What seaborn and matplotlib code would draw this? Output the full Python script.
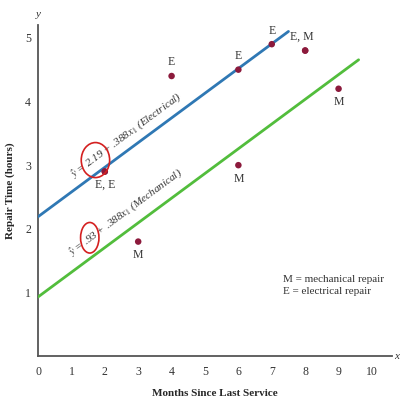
import matplotlib
matplotlib.use("Agg")
import matplotlib.pyplot as plt
import seaborn as sns
import pandas as pd
import numpy as np
from matplotlib.patches import Ellipse

months = [2, 6, 8, 3, 2, 7, 9, 8, 4, 6]
hours = [2.9, 3.0, 4.8, 1.8, 2.9, 4.9, 4.2, 4.8, 4.4, 4.5]
repair_type = ["E", "M", "E", "M", "E", "E", "M", "M", "E", "E"]

point_labels = ["E, E", "M", "E, M", "M", "E", "M", "E", "E"]
label_x = [2, 6, 8, 3, 7, 9, 4, 6]
label_y = [2.9, 3.0, 4.8, 1.8, 4.9, 4.2, 4.4, 4.5]

intercepts = {"Electrical": 2.19, "Mechanical": 0.93}
slope = 0.388
line_end = {"Electrical": 7.5, "Mechanical": 9.6}
line_colors = {"Electrical": "#2f78b4", "Mechanical": "#52bd3c"}

x_ticks = [0, 1, 2, 3, 4, 5, 6, 7, 8, 9, 10]
y_ticks = [1, 2, 3, 4, 5]

sns.set_style("white")
plt.rcParams["font.family"] = ["Liberation Serif", "DejaVu Serif"]
plt.rcParams["mathtext.fontset"] = "stix"

fig = plt.figure(figsize=(4.0, 3.98), dpi=100)
ax = fig.add_axes([0.095, 0.105, 0.885, 0.832])

df = pd.DataFrame({"months": months, "hours": hours, "type": repair_type})
sns.scatterplot(data=df, x="months", y="hours", color="#8c1a3c", s=22,
                edgecolor="none", ax=ax, zorder=5, legend=False)

rows = []
for k, b in intercepts.items():
    for xv in (0, line_end[k]):
        rows.append({"x": xv, "y": b + slope * xv, "fit": k})
ldf = pd.DataFrame(rows)
sns.lineplot(data=ldf, x="x", y="y", hue="fit", palette=line_colors,
             linewidth=2.0, ax=ax, legend=False, zorder=3)

for lab, xv, yv in zip(point_labels, label_x, label_y):
    if lab.startswith("M") or lab == "E, E":
        ax.text(xv, yv - 0.12, lab, ha="center", va="top", fontsize=8.5, color="#333333")
    elif lab == "E, M":
        ax.text(xv - 0.1, yv + 0.12, lab, ha="center", va="bottom", fontsize=8.5, color="#333333")
    else:
        ax.text(xv, yv + 0.12, lab, ha="center", va="bottom", fontsize=8.5, color="#333333")

ang = 36.5
ax.text(1.05, 2.8, r"$\hat{y}$ = 2.19 + .388$x_1$ (Electrical)", rotation=ang,
        rotation_mode="anchor", fontsize=8, style="italic", color="#333333")
ax.text(1.0, 1.58, r"$\hat{y}$ = .93 + .388$x_1$ (Mechanical)", rotation=ang,
        rotation_mode="anchor", fontsize=8, style="italic", color="#333333")

ax.add_patch(Ellipse((1.72, 3.08), 0.85, 0.55, angle=0, fill=False,
                     edgecolor="#d42020", linewidth=1.2, zorder=6))
ax.add_patch(Ellipse((1.55, 1.86), 0.55, 0.48, angle=0, fill=False,
                     edgecolor="#d42020", linewidth=1.2, zorder=6))

ax.text(7.35, 0.95, "M = mechanical repair\nE = electrical repair", fontsize=8,
        color="#333333", va="bottom", linespacing=1.35)

ax.set_xlim(0, 10.6)
ax.set_ylim(0, 5.2)
ax.set_xticks(x_ticks)
ax.set_yticks(y_ticks)
ax.tick_params(axis="both", direction="in", length=4, width=1, colors="#555555",
               labelcolor="#333333", labelsize=8.5)
ax.tick_params(axis="x", pad=7)
ax.tick_params(axis="y", pad=5)
for s in ("top", "right"):
    ax.spines[s].set_visible(False)
for s in ("left", "bottom"):
    ax.spines[s].set_color("#555555")
    ax.spines[s].set_linewidth(1.3)

ax.set_xlabel("Months Since Last Service", fontweight="bold", fontsize=8, labelpad=8)
ax.set_ylabel("Repair Time (hours)", fontweight="bold", fontsize=8, labelpad=7)
ax.text(10.67, 0, "x", fontsize=8, style="italic", va="center", color="#333333", clip_on=False)
ax.text(0, 5.33, "y", fontsize=8, style="italic", ha="center", color="#333333", clip_on=False)

fig.savefig("out.png", dpi=100)
